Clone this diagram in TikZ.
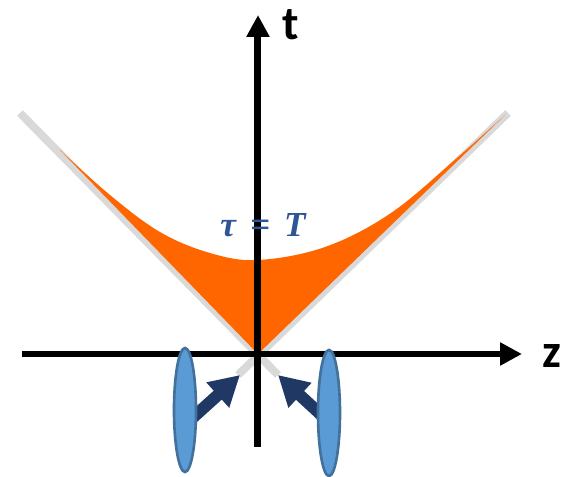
\documentclass[tikz,border=0pt]{standalone}
\usepackage{fontspec}
\setsansfont{Carlito}
\newfontfamily\taufont{Liberation Serif}
\usetikzlibrary{arrows.meta}
\definecolor{conegray}{RGB}{217,217,217}
\definecolor{pulseorange}{RGB}{255,102,0}
\definecolor{beamblue}{RGB}{91,155,213}
\definecolor{beamedge}{RGB}{65,113,156}
\definecolor{arrownavy}{RGB}{32,56,100}
\definecolor{labelblue}{RGB}{47,85,151}
\tikzset{
  axisline/.style={line width=0.14cm,-{Triangle[length=0.44cm,width=0.44cm]}},
  coneline/.style={conegray,line width=0.16cm},
  beam/.style={beamedge,fill=beamblue,line width=1.5pt},
  kick/.style={arrownavy,line width=0.24cm,-{Triangle[length=0.6cm,width=0.64cm]}},
  axislabel/.style={font=\sffamily\bfseries\fontsize{27}{27}\selectfont,inner sep=0pt}
}
\begin{document}
\begin{tikzpicture}[x=0.02cm,y=0.02cm]
\useasboundingbox (-258,-123) rectangle (304,354);
% light cone
\draw[coneline] (-238,241) -- (20,-21);
\draw[coneline] (250,241) -- (-20,-21);
% region between cone and tau = T
\fill[pulseorange] plot[smooth,tension=0.6] coordinates {(-198,204) (-148,159) (-98,122) (-48,101) (0,94) (67,107) (133,141) (200,197) (247,239)} -- (0,0) -- cycle;
% axes
\draw[axisline] (-236,0) -- (264,0);
\draw[axisline] (0,-93) -- (0,339);
\node[axislabel] (tlabel) at (33,329) {t};
\node[axislabel] (zlabel) at (294,-2) {z};
\node[labelblue,font=\taufont\bfseries\itshape\fontsize{20}{20}\selectfont] (taulabel) at (5,129) {τ\hspace{0.15em} = \hspace{0.15em}T};
% colliding beams
\coordinate (tailL) at (-70,-68); \coordinate (tipL) at (-18,-21);
\coordinate (tailR) at (72,-69); \coordinate (tipR) at (20,-21);
\draw[kick] (tailL) -- (tipL);
\draw[kick] (tailR) -- (tipR);
\draw[beam] (-73,-56) ellipse [x radius=11,y radius=62];
\draw[beam] (71,-59) ellipse [x radius=11,y radius=63];
\end{tikzpicture}
\end{document}
